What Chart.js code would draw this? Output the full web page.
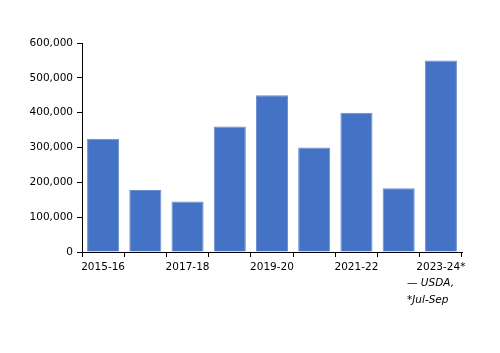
<!DOCTYPE html>
<html><head><meta charset="utf-8">
<script src="https://cdn.jsdelivr.net/npm/chart.js@4"></script>
<style>html,body{margin:0;padding:0;background:#fff}#c{display:block}</style>
</head><body>
<div style="width:500px;height:353px"><canvas id="c" width="500" height="353"></canvas></div>
<script>
const categories = ["2015-16","2016-17","2017-18","2018-19","2019-20","2020-21","2021-22","2022-23","2023-24*"];
const values = [325000, 178000, 145000, 360000, 450000, 300000, 400000, 183000, 550000];
const yTicks = [0, 100000, 200000, 300000, 400000, 500000, 600000];
const footnote = ["\u2014 USDA,", "*Jul-Sep"];

const FONT = "'DejaVu Sans', sans-serif";
const notePlugin = {
  id: 'note',
  afterDraw(chart) {
    const ctx = chart.ctx;
    ctx.save();
    ctx.font = "italic 10.5px " + FONT;
    ctx.fillStyle = '#000';
    ctx.textBaseline = 'middle';
    ctx.textAlign = 'left';
    ctx.fillText(footnote[0], 407, 283);
    ctx.fillText(footnote[1], 407, 300);
    ctx.restore();
  }
};

new Chart(document.getElementById('c'), {
  type: 'bar',
  data: {
    labels: categories,
    datasets: [{
      data: values,
      backgroundColor: '#4472C4',
      borderColor: '#6a8ed2',
      borderWidth: 1,
      barPercentage: 0.76,
      categoryPercentage: 1.0
    }]
  },
  options: {
    responsive: false,
    animation: false,
    layout: { padding: { top: 43, right: 38, left: 0, bottom: 0 } },
    plugins: { legend: { display: false }, tooltip: { enabled: false } },
    scales: {
      x: {
        grid: { offset: true, drawOnChartArea: false, drawTicks: true, tickLength: 5, color: '#000' },
        border: { display: true, color: '#000', width: 1 },
        ticks: {
          autoSkip: false, maxRotation: 0, minRotation: 0,
          color: '#000', font: { family: FONT, size: 10.5 }, padding: 4,
          callback: function(v, i) { return i % 2 === 0 ? categories[i] : ''; }
        },
        afterFit(s) { s.height = 101; }
      },
      y: {
        min: 0, max: 600000,
        afterBuildTicks(s) { s.ticks = yTicks.map(v => ({ value: v })); },
        grid: { drawOnChartArea: false, drawTicks: true, tickLength: 5, color: '#000' },
        border: { display: true, color: '#000', width: 1 },
        ticks: {
          color: '#000', font: { family: FONT, size: 10.5 }, padding: 4,
          callback: v => v.toLocaleString('en-US')
        },
        afterFit(s) { s.width = 82; }
      }
    }
  },
  plugins: [notePlugin]
});
</script>
</body></html>
